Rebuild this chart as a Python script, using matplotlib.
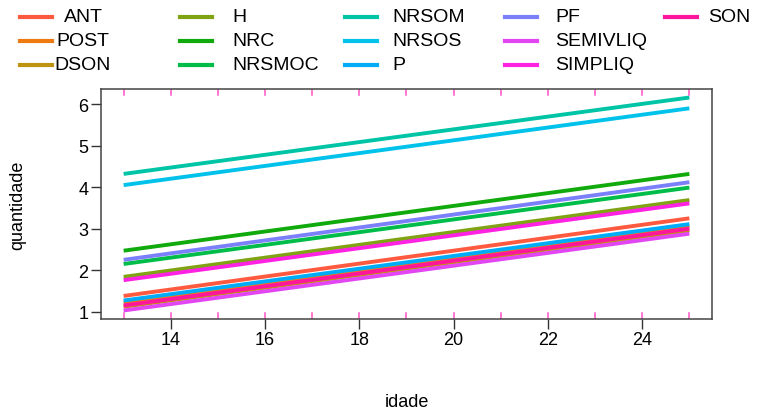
import matplotlib.pyplot as plt
from matplotlib.lines import Line2D
import numpy as np

plt.rcParams['font.family'] = ['Liberation Sans', 'DejaVu Sans']

# groups and fitted values at the two ends of the age range
grupos = ['ANT', 'POST', 'DSON', 'H', 'NRC', 'NRSMOC', 'NRSOM',
          'NRSOS', 'P', 'PF', 'SEMIVLIQ', 'SIMPLIQ', 'SON']
idade = [13, 25]
q_ini = [1.38, 1.22, 1.12, 1.84, 2.47, 2.15, 4.32, 4.05, 1.27, 2.25, 1.03, 1.76, 1.15]
q_fim = [3.25, 3.06, 2.96, 3.69, 4.32, 3.99, 6.16, 5.90, 3.11, 4.12, 2.88, 3.61, 3.00]
cores = ['#FF5A40', '#F07A12', '#BF9410', '#7FA312', '#11AA0C', '#00BC48', '#00C4A6',
         '#00C2EA', '#00ACF8', '#7B80FA', '#E246F2', '#FF22E2', '#FF169A']
rug_x = np.arange(13, 26)
xticks = [14, 16, 18, 20, 22, 24]
yticks = [1, 2, 3, 4, 5, 6]

W, H = 758, 414
fig = plt.figure(figsize=(W / 100, H / 100), dpi=100)
ax = fig.add_axes([101 / W, 1 - 320 / H, (712 - 101) / W, (320 - 90) / H])

for g, a, b, c in zip(grupos, q_ini, q_fim, cores):
    ax.plot(idade, [a, b], color=c, lw=2.8, solid_capstyle='butt')

# rug marks at every age, top and bottom
for xv in rug_x:
    ax.plot([xv, xv], [0, 0.025], transform=ax.get_xaxis_transform(), color='#FF4FC8', lw=1.1)
    ax.plot([xv, xv], [0.975, 1], transform=ax.get_xaxis_transform(), color='#FF4FC8', lw=1.1)

lo, hi = min(q_ini), max(q_fim)
ext = 0.04 * (hi - lo)
ax.set_ylim(lo - ext, hi + ext)
ax.set_xlim(12.52, 25.48)
ax.set_xticks(xticks)
ax.set_yticks(yticks)
ax.tick_params(axis='both', direction='out', length=7, width=1, color='#333333',
               labelsize=13, pad=2, top=False, right=False)
for s in ax.spines.values():
    s.set_color('#444444')
    s.set_linewidth(1.1)
ax.set_xlabel('idade', fontsize=13, va='center')
ax.xaxis.set_label_coords(0.5, (320 - 403) / 230)
ax.set_ylabel('quantidade', fontsize=13, va='center')
ax.yaxis.set_label_coords((18 - 101) / 611, 0.5)

# legend on top, 5 columns of 3 rows
col_line = [20, 180, 345, 505, 665]
col_text = [83, 232, 392, 555, 708]
row_y = [18, 42, 66]
for i, (g, c) in enumerate(zip(grupos, cores)):
    col, row = i // 3, i % 3
    y = 1 - row_y[row] / H
    x0 = col_line[col]
    fig.add_artist(Line2D([x0 / W, (x0 + 32) / W], [y, y], color=c, lw=3,
                          transform=fig.transFigure))
    ha = 'center' if col == 0 else 'left'
    fig.text(col_text[col] / W, y, g, ha=ha, va='center', fontsize=14)

fig.savefig('out.png', dpi=100)
